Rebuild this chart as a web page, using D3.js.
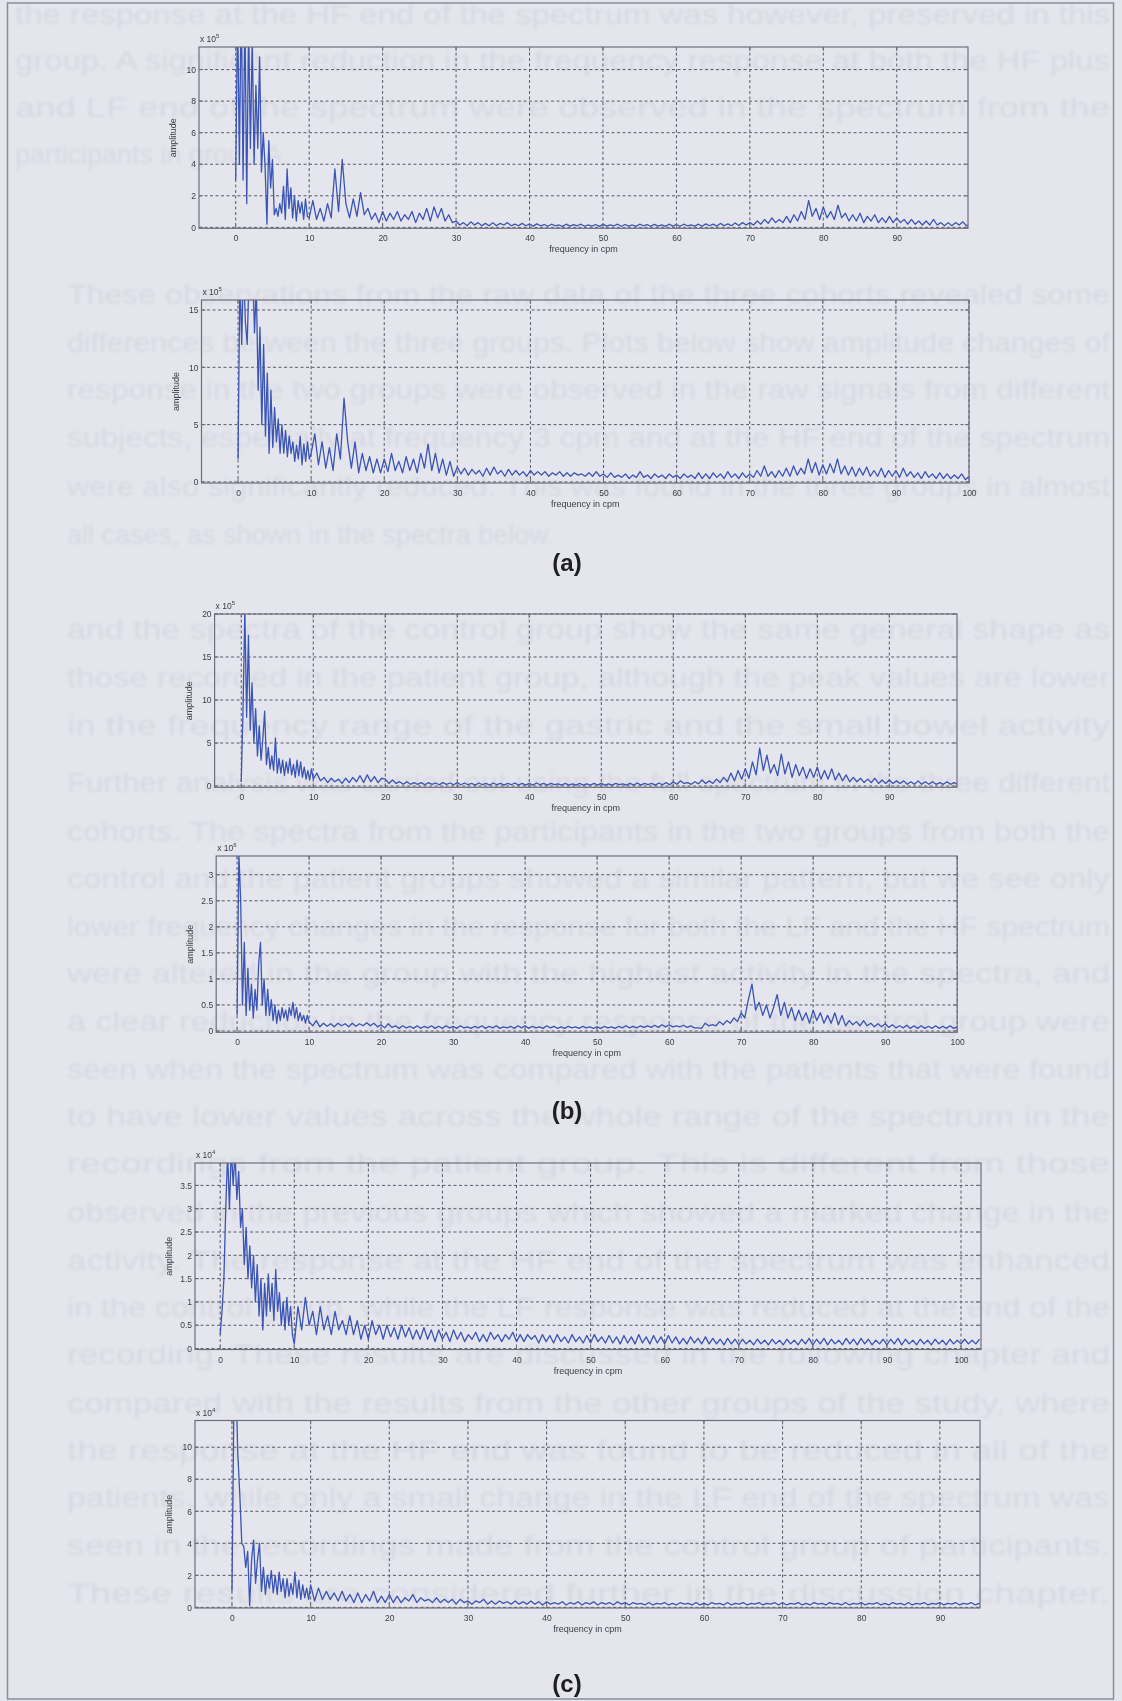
<!DOCTYPE html>
<html>
<head>
<meta charset="utf-8">
<script src="https://cdn.jsdelivr.net/npm/d3@7"></script>
<style>
  body { margin: 0; background: #e5e5ed; }
  svg { display: block; }
</style>
</head>
<body>
<div id="page"></div>
<script>
//Page size.
let W = 1122
let H = 1701

//Samples: 0 to 9.75 cpm every 0.25, then 10 cpm upwards every 0.5.
const freqOf = (i) => i < 40 ? i * 0.25 : 10 + (i - 40) * 0.5

//Spectrum (a), top, x 10^5.
let ampA1 = [
  3,14,4,15,3,14,1.5,13,5,12, 4,9,5,10.8,3.5,6,3.8,0.2,5.5,2.5,
  4.3,0.8,1.2,0.7,1.5,0.9,2.6,0.5,3.7,1.2, 2.5,0.6,2.0,0.4,1.7,0.9,1.6,0.5,1.8,0.7,
  0.6,1.7,0.5,1.2,0.4,1.5,0.6,3.7,1.0,4.3, 1.5,0.6,1.8,0.7,2.2,0.8,1.2,0.5,0.9,0.3,
  1.0,0.4,0.9,0.5,1.0,0.4,0.8,0.5,1.0,0.3, 0.9,0.5,1.2,0.4,1.3,0.6,1.2,0.4,0.8,0.3,
  0.4,0.15,0.3,0.1,0.35,0.15,0.3,0.1,0.25,0.1, 0.3,0.1,0.25,0.15,0.3,0.1,0.2,0.1,0.25,0.1,
  0.2,0.08,0.22,0.1,0.18,0.07,0.2,0.1,0.15,0.06, 0.2,0.08,0.17,0.1,0.2,0.07,0.15,0.08,0.18,0.06,
  0.2,0.08,0.16,0.1,0.2,0.07,0.18,0.08,0.15,0.06, 0.2,0.1,0.17,0.07,0.19,0.08,0.16,0.06,0.2,0.08,
  0.18,0.07,0.2,0.1,0.16,0.08,0.2,0.07,0.22,0.1, 0.2,0.08,0.25,0.1,0.22,0.1,0.28,0.12,0.3,0.15,
  0.3,0.15,0.4,0.2,0.5,0.25,0.6,0.3,0.5,0.3, 0.7,0.3,0.8,0.4,1.0,0.5,1.7,0.7,1.2,0.5,
  1.3,0.6,1.0,0.5,1.4,0.6,0.9,0.4,0.8,0.4, 0.9,0.3,0.7,0.4,0.8,0.3,0.6,0.3,0.7,0.3,
  0.6,0.3,0.5,0.2,0.5,0.2,0.4,0.15,0.4,0.15, 0.5,0.15,0.3,0.1,0.3,0.1,0.3,0.15,0.35,0.1,
  0.2
]

//Spectrum (a), bottom, x 10^5.
let ampA2 = [
  2,18,12,19,14,12,18,16,19,13, 17,8,13.5,5,12,4,9.5,2.5,8,3,
  6.5,3.5,5.5,2.5,5,2.5,4.5,2.2,4,2.5, 3.5,1.8,3.2,2,4,1.5,3.3,1.8,3.5,2,
  2.5,4.2,1.5,3.5,1.2,3.0,1.0,4.2,2.0,7.3, 3.5,1.2,3.5,0.8,2.5,1.0,2.2,0.8,2.0,0.8,
  2.0,0.9,2.5,1.0,1.8,0.8,2.2,1.0,2.0,0.8, 2.5,1.2,3.3,1.0,2.5,0.8,2.0,0.6,1.8,0.5,
  1.3,0.7,1.2,0.6,1.1,0.7,1.0,0.5,1.2,0.6, 1.3,0.7,1.0,0.5,1.1,0.6,1.0,0.6,0.9,0.5,
  1.0,0.6,0.9,0.6,0.9,0.5,0.8,0.6,0.9,0.5, 0.8,0.5,0.8,0.6,0.7,0.5,0.8,0.5,0.9,0.5,
  0.7,0.4,0.8,0.4,0.6,0.4,0.7,0.3,0.6,0.4, 0.9,0.4,0.6,0.3,0.7,0.4,0.6,0.3,0.7,0.4,
  0.6,0.3,0.7,0.4,0.6,0.3,0.8,0.3,0.7,0.3, 0.8,0.4,0.7,0.3,0.9,0.4,0.7,0.3,0.8,0.4,
  0.7,0.4,1.0,0.5,1.4,0.5,0.9,0.4,1.0,0.5, 1.2,0.5,1.4,0.6,1.2,0.7,2.0,0.8,1.7,0.6,
  1.5,0.7,1.6,0.8,2.0,0.7,1.4,0.6,1.3,0.5, 1.2,0.6,1.3,0.5,1.0,0.5,1.2,0.4,1.0,0.5,
  1.0,0.4,1.2,0.5,0.9,0.4,0.8,0.3,0.9,0.4, 0.7,0.3,0.8,0.3,0.7,0.3,0.6,0.3,0.7,0.2,
  0.5
]

//Spectrum (b), top, x 10^5.
let ampB1 = [
  0.5,9,20.5,8,17.5,6.5,12,5,9,3.5, 7,3,5.5,8.7,2.5,4.5,2,3.5,1.8,5.6,
  1.5,3.2,1.5,3,1.2,2.8,1.5,3.2,1.3,2.5, 1.0,3.0,1.2,2.8,1.0,2.2,0.8,1.8,0.7,2.0,
  0.8,1.5,0.6,1.0,0.4,0.9,0.5,0.8,0.3,0.9, 0.4,1.0,0.5,1.2,0.4,1.3,0.5,1.1,0.4,0.9,
  0.8,0.3,0.7,0.3,0.5,0.2,0.5,0.2,0.4,0.2, 0.4,0.15,0.4,0.2,0.35,0.15,0.4,0.2,0.35,0.15,
  0.4,0.15,0.35,0.15,0.3,0.1,0.35,0.15,0.3,0.1, 0.35,0.15,0.3,0.1,0.3,0.15,0.35,0.1,0.3,0.1,
  0.3,0.1,0.35,0.15,0.3,0.1,0.3,0.15,0.25,0.1, 0.3,0.1,0.25,0.1,0.3,0.1,0.25,0.1,0.3,0.1,
  0.3,0.1,0.25,0.1,0.3,0.15,0.25,0.1,0.3,0.1, 0.35,0.1,0.3,0.15,0.3,0.1,0.35,0.15,0.4,0.15,
  0.5,0.2,0.6,0.3,0.4,0.2,0.5,0.25,0.7,0.3, 0.6,0.3,0.8,0.4,1.0,0.5,1.5,0.6,1.8,0.8,
  2.0,0.9,2.8,1.3,4.4,1.8,3.6,1.5,2.5,1.2, 3.7,1.4,2.8,1.0,2.5,1.2,2.2,0.9,2.0,1.0,
  2.2,0.8,1.8,0.8,2.0,0.7,1.5,0.6,1.3,0.5, 1.0,0.5,0.9,0.4,0.8,0.4,0.9,0.3,0.7,0.3,
  0.7,0.3,0.6,0.3,0.6,0.2,0.5,0.2,0.6,0.2, 0.5,0.2,0.5,0.2,0.4,0.2,0.5,0.2,0.4,0.2,
  0.3
]

//Spectrum (b), bottom, x 10^6.
let ampB2 = [
  0.3,3.4,2.5,0.5,1.7,0.3,1.2,0.4,0.9,0.25, 0.8,0.4,1.3,1.7,0.5,1.0,0.3,0.8,0.3,0.6,
  0.2,0.5,0.15,0.4,0.2,0.45,0.25,0.4,0.2,0.45, 0.3,0.55,0.25,0.45,0.2,0.35,0.2,0.3,0.15,0.3,
  0.18,0.1,0.2,0.08,0.15,0.09,0.14,0.08,0.15,0.1, 0.14,0.08,0.15,0.09,0.14,0.1,0.16,0.1,0.15,0.08,
  0.12,0.06,0.14,0.07,0.1,0.05,0.1,0.06,0.09,0.05, 0.1,0.05,0.09,0.06,0.1,0.05,0.09,0.05,0.1,0.06,
  0.09,0.05,0.1,0.06,0.08,0.05,0.09,0.06,0.1,0.05, 0.09,0.06,0.1,0.05,0.08,0.06,0.09,0.05,0.1,0.06,
  0.1,0.05,0.09,0.06,0.08,0.05,0.1,0.06,0.09,0.05, 0.08,0.05,0.09,0.06,0.08,0.05,0.09,0.06,0.08,0.05,
  0.08,0.05,0.09,0.06,0.08,0.05,0.09,0.06,0.1,0.06, 0.09,0.06,0.1,0.07,0.1,0.07,0.11,0.07,0.12,0.08,
  0.12,0.08,0.1,0.08,0.11,0.07,0.1,0.06,0.06,0.05, 0.15,0.1,0.12,0.1,0.18,0.12,0.2,0.15,0.25,0.18,
  0.35,0.25,0.6,0.9,0.4,0.55,0.3,0.5,0.25,0.45, 0.7,0.3,0.55,0.25,0.45,0.2,0.4,0.2,0.35,0.15,
  0.4,0.2,0.35,0.15,0.3,0.15,0.35,0.12,0.3,0.1, 0.2,0.12,0.18,0.1,0.2,0.1,0.15,0.08,0.14,0.08,
  0.14,0.07,0.12,0.06,0.1,0.06,0.11,0.05,0.1,0.05, 0.1,0.05,0.09,0.05,0.1,0.05,0.09,0.05,0.1,0.05,
  0.08
]

//Spectrum (c), top, x 10^4.
let ampC1 = [
  0.3,0.8,1.5,3.0,4.2,3.0,4.3,3.5,4.2,3.2, 3.8,2.6,3.0,1.8,2.6,1.5,2.2,1.3,2.0,1.0,
  1.8,0.7,1.5,0.4,1.4,0.7,1.6,0.8,1.4,0.6, 1.7,0.8,1.2,0.5,1.0,0.4,1.1,0.5,0.9,0.3,
  0.1,0.9,0.4,1.1,0.5,0.8,0.3,0.9,0.4,0.7, 0.3,0.8,0.4,0.6,0.3,0.7,0.3,0.6,0.2,0.5,
  0.2,0.6,0.3,0.5,0.2,0.5,0.25,0.45,0.2,0.5, 0.25,0.45,0.2,0.4,0.2,0.45,0.2,0.4,0.15,0.4,
  0.2,0.35,0.15,0.4,0.2,0.35,0.15,0.3,0.2,0.35, 0.15,0.3,0.15,0.35,0.2,0.3,0.15,0.3,0.2,0.35,
  0.15,0.3,0.15,0.3,0.2,0.28,0.12,0.3,0.15,0.28, 0.12,0.3,0.15,0.25,0.12,0.3,0.15,0.25,0.12,0.28,
  0.12,0.3,0.15,0.25,0.12,0.28,0.12,0.25,0.1,0.28, 0.12,0.25,0.1,0.3,0.12,0.25,0.1,0.28,0.12,0.25,
  0.1,0.28,0.12,0.25,0.1,0.22,0.1,0.25,0.12,0.22, 0.1,0.25,0.1,0.22,0.1,0.2,0.08,0.22,0.1,0.2,
  0.08,0.2,0.1,0.18,0.08,0.2,0.1,0.18,0.08,0.2, 0.1,0.18,0.08,0.2,0.1,0.18,0.08,0.2,0.1,0.22,
  0.08,0.2,0.1,0.22,0.08,0.2,0.1,0.18,0.08,0.22, 0.1,0.2,0.08,0.22,0.1,0.2,0.08,0.18,0.1,0.2,
  0.08,0.2,0.1,0.22,0.08,0.2,0.1,0.18,0.08,0.2, 0.1,0.18,0.08,0.2,0.1,0.18,0.08,0.2,0.1,0.18,
  0.1,0.2,0.1,0.18,0.1,0.2
]

//Spectrum (c), bottom, x 10^4.
let ampC2 = [
  1,13,14,9.5,7,4,3.8,2.5,3.5,0.1, 3,4.2,1.5,3.0,4.0,1.0,2.5,0.8,2.0,1.2,
  2.3,0.9,2.0,0.8,2.2,1.0,1.8,0.6,1.8,0.7, 1.5,0.8,2.2,0.6,1.7,0.5,1.4,0.6,1.2,0.5,
  1.4,0.4,1.2,0.5,1.0,0.5,0.9,0.4,1.0,0.4, 0.8,0.3,0.9,0.3,0.8,0.4,1.0,0.3,0.7,0.3,
  0.8,0.3,0.7,0.3,0.6,0.4,0.8,0.3,0.6,0.4, 0.5,0.3,0.6,0.3,0.5,0.3,0.5,0.2,0.5,0.3,
  0.4,0.2,0.4,0.3,0.5,0.2,0.4,0.2,0.4,0.25, 0.35,0.2,0.4,0.2,0.35,0.2,0.4,0.2,0.35,0.15,
  0.35,0.2,0.3,0.2,0.35,0.15,0.3,0.2,0.35,0.15, 0.3,0.2,0.35,0.15,0.3,0.2,0.3,0.15,0.35,0.2,
  0.3,0.15,0.3,0.2,0.25,0.15,0.3,0.15,0.25,0.2, 0.3,0.15,0.25,0.15,0.3,0.2,0.25,0.15,0.3,0.15,
  0.25,0.15,0.3,0.2,0.25,0.15,0.3,0.15,0.25,0.2, 0.3,0.15,0.25,0.2,0.3,0.15,0.25,0.2,0.3,0.15,
  0.3,0.15,0.25,0.2,0.3,0.15,0.25,0.15,0.3,0.2, 0.25,0.15,0.3,0.2,0.25,0.15,0.3,0.15,0.25,0.2,
  0.3,0.15,0.25,0.2,0.3,0.15,0.25,0.15,0.3,0.2, 0.25,0.15,0.3,0.15,0.25,0.2,0.3,0.15,0.25,0.2,
  0.3,0.15,0.25,0.2,0.3,0.15,0.25,0.2,0.3,0.15, 0.25,0.2,0.3,0.15,0.25,0.2,0.3,0.15,0.25,0.2,
  0.2
]

//Tick values of each axis.
let xTicks90 = [0, 10, 20, 30, 40, 50, 60, 70, 80, 90]
let xTicks100 = [0, 10, 20, 30, 40, 50, 60, 70, 80, 90, 100]
let yTicksA1 = [0, 2, 4, 6, 8, 10]
let yTicksA2 = [0, 5, 10, 15]
let yTicksB1 = [0, 5, 10, 15, 20]
let yTicksB2 = [0, 0.5, 1, 1.5, 2, 2.5, 3]
let yTicksC1 = [0, 0.5, 1, 1.5, 2, 2.5, 3, 3.5]
let yTicksC2 = [0, 2, 4, 6, 8, 10]

//Multiplier exponents shown above each plot.
let exponents = ["5", "5", "5", "6", "4", "4"]

//Panel captions.
let captions = ["(a)", "(b)", "(c)"]

//Text of the page showing through the scan.
let bgLines = [
  "the response at the HF end of the spectrum was however, preserved in this",
  "group. A significant reduction in the frequency response at both the HF plus",
  "and LF end of the spectrum were observed in the spectrum from the",
  "participants in group A.",
  "These observations from the raw data of the three cohorts revealed some",
  "differences between the three groups. Plots below show amplitude changes of",
  "response in the two groups were observed in the raw signals from different",
  "subjects, especially at frequency 3 cpm and at the HF end of the spectrum",
  "were also significantly reduced. This was found in the three groups in almost",
  "all cases, as shown in the spectra below.",
  "and the spectra of the control group show the same general shape as",
  "those recorded in the patient group, although the peak values are lower",
  "in the frequency range of the gastric and the small bowel activity",
  "Further analysis was carried out using the full spectrum in the three different",
  "cohorts. The spectra from the participants in the two groups from both the",
  "control and the patient groups showed a similar pattern, but we see only",
  "lower frequency changes in the response for both the LF and the HF spectrum",
  "were altered in the group with the highest activity in the spectra, and",
  "a clear reduction in the frequency response of the control group were",
  "seen when the spectrum was compared with the patients that were found",
  "to have lower values across the whole range of the spectrum in the",
  "recordings from the patient group. This is different from those",
  "observed in the previous groups which showed a marked change in the",
  "activity. The response at the HF end of the spectrum was enhanced",
  "in the control group, while the LF response was reduced at the end of the",
  "recording. These results are discussed in the following chapter and",
  "compared with the results from the other groups of the study, where",
  "the response at the HF end was found to be reduced in all of the",
  "patients, while only a small change in the LF end of the spectrum was",
  "seen in the recordings made from the control group of participants.",
  "These results are considered further in the discussion chapter."
]

//Position of each text line: baseline y, left x, whether it is justified.
let bgPos = [
  [24, 15, 1], [70, 15, 1], [117, 15, 1], [164, 15, 0],
  [304, 67, 1], [352, 67, 1], [399, 67, 1], [447, 67, 1], [496, 67, 1], [544, 67, 0],
  [639, 67, 1], [687, 67, 1], [735, 67, 1],
  [792, 67, 1], [841, 67, 1], [888, 67, 1], [936, 67, 1], [983, 67, 1], [1031, 67, 1],
  [1079, 67, 1], [1126, 67, 1], [1173, 67, 1], [1222, 67, 1], [1270, 67, 1], [1317, 67, 1],
  [1364, 67, 1], [1413, 67, 1], [1460, 67, 1], [1507, 67, 1], [1555, 67, 1], [1603, 67, 1]
]

//Where each plot box sits on the page and the range its axes show.
let layout = [
  { left: 199, right: 968, top: 47, bottom: 228.3, xDom: [-5, 99.7], yDom: [-0.06, 11.43] },
  { left: 201.5, right: 969, top: 300, bottom: 483, xDom: [-5, 100], yDom: [-0.09, 15.87] },
  { left: 214.6, right: 957, top: 614, bottom: 787.3, xDom: [-3.7, 99.4], yDom: [-0.15, 20] },
  { left: 216.2, right: 957.2, top: 856, bottom: 1032.3, xDom: [-2.9, 100], yDom: [-0.025, 3.36] },
  { left: 195, right: 981, top: 1163, bottom: 1349.5, xDom: [-3.4, 102.7], yDom: [-0.02, 3.98] },
  { left: 195, right: 980, top: 1420.5, bottom: 1608, xDom: [-4.7, 95.1], yDom: [-0.04, 11.67] }
]

let amps = [ampA1, ampA2, ampB1, ampB2, ampC1, ampC2]
let xTickSets = [xTicks90, xTicks100, xTicks90, xTicks100, xTicks100, xTicks90]
let yTickSets = [yTicksA1, yTicksA2, yTicksB1, yTicksB2, yTicksC1, yTicksC2]

let captionY = [571, 1119, 1692]

const font = "'Liberation Sans', Arial, sans-serif"
const lineColor = "#3a54b4"
const gridColor = "#5a5a66"
const textColor = "#3c3c44"

//The page.
const svg = d3.select("#page")
              .append("svg")
              .attr("width", W)
              .attr("height", H)

const defs = svg.append("defs")
defs.append("filter").attr("id", "bleed")
    .attr("x", "-5%").attr("y", "-5%").attr("width", "110%").attr("height", "110%")
    .append("feGaussianBlur").attr("stdDeviation", 1.4)
defs.append("filter").attr("id", "soft")
    .attr("x", "-5%").attr("y", "-5%").attr("width", "110%").attr("height", "110%")
    .append("feGaussianBlur").attr("stdDeviation", 0.45)

svg.append("rect").attr("width", W).attr("height", H).attr("fill", "#e5e5ed")

//Faint text from the page behind.
const bg = svg.append("g").attr("filter", "url(#bleed)")
bg.selectAll("text")
  .data(bgLines)
  .join("text")
  .attr("x", (d, i) => bgPos[i][1])
  .attr("y", (d, i) => bgPos[i][0])
  .attr("font-family", font)
  .attr("font-size", 27)
  .attr("fill", "#d8d8e2")
  .attr("textLength", (d, i) => bgPos[i][2] ? 1110 - bgPos[i][1] : null)
  .attr("lengthAdjust", "spacingAndGlyphs")
  .text(d => d)

//Frame round the figure.
svg.append("rect")
   .attr("x", 7.5).attr("y", 3)
   .attr("width", 1106).attr("height", 1696)
   .attr("fill", "none")
   .attr("stroke", "#8c8c98")
   .attr("stroke-width", 1.5)

const charts = svg.append("g").attr("filter", "url(#soft)")

function drawPanel(p, i) {
  const x = d3.scaleLinear().domain(p.xDom).range([p.left, p.right])
  const y = d3.scaleLinear().domain(p.yDom).range([p.bottom, p.top])
  const g = charts.append("g")
  const clipId = "clip" + i

  defs.append("clipPath").attr("id", clipId)
      .append("rect")
      .attr("x", p.left).attr("y", p.top)
      .attr("width", p.right - p.left).attr("height", p.bottom - p.top)

  //Dashed grid.
  g.append("g").selectAll("line")
   .data(xTickSets[i])
   .join("line")
   .attr("x1", d => x(d)).attr("x2", d => x(d))
   .attr("y1", p.top).attr("y2", p.bottom)
   .attr("stroke", gridColor).attr("stroke-width", 1)
   .attr("stroke-dasharray", "3,2.5")
  g.append("g").selectAll("line")
   .data(yTickSets[i])
   .join("line")
   .attr("x1", p.left).attr("x2", p.right)
   .attr("y1", d => y(d)).attr("y2", d => y(d))
   .attr("stroke", gridColor).attr("stroke-width", 1)
   .attr("stroke-dasharray", "3,2.5")

  //The spectrum.
  const line = d3.line()
                 .x((d, k) => x(freqOf(k)))
                 .y(d => y(d))
  g.append("path")
   .datum(amps[i])
   .attr("clip-path", "url(#" + clipId + ")")
   .attr("d", line)
   .attr("fill", "none")
   .attr("stroke", lineColor)
   .attr("stroke-width", 1.3)
   .attr("stroke-linejoin", "round")

  //Box.
  g.append("rect")
   .attr("x", p.left).attr("y", p.top)
   .attr("width", p.right - p.left).attr("height", p.bottom - p.top)
   .attr("fill", "none").attr("stroke", "#6e6e7a").attr("stroke-width", 1.2)

  //Tick labels.
  const xAxis = d3.axisBottom(x).tickValues(xTickSets[i]).tickSize(4).tickPadding(2)
  const xg = g.append("g").attr("transform", "translate(0," + (p.bottom + 1) + ")").call(xAxis)
  const yAxis = d3.axisLeft(y).tickValues(yTickSets[i]).tickSize(0).tickPadding(3)
                  .tickFormat(d3.format("~g"))
  const yg = g.append("g").attr("transform", "translate(" + p.left + ",0)").call(yAxis)
  ;[xg, yg].forEach(a => {
    a.attr("font-family", font).attr("font-size", 8.5)
    a.select(".domain").remove()
    a.selectAll("text").attr("fill", textColor)
  })
  xg.selectAll("line").remove()

  //Inward tick marks on all four sides.
  xTickSets[i].forEach(t => {
    g.append("line").attr("x1", x(t)).attr("x2", x(t)).attr("y1", p.bottom).attr("y2", p.bottom - 4).attr("stroke", "#6e6e7a")
    g.append("line").attr("x1", x(t)).attr("x2", x(t)).attr("y1", p.top).attr("y2", p.top + 4).attr("stroke", "#6e6e7a")
  })
  yTickSets[i].forEach(t => {
    g.append("line").attr("x1", p.left).attr("x2", p.left + 4).attr("y1", y(t)).attr("y2", y(t)).attr("stroke", "#6e6e7a")
    g.append("line").attr("x1", p.right).attr("x2", p.right - 4).attr("y1", y(t)).attr("y2", y(t)).attr("stroke", "#6e6e7a")
  })

  //Axis titles.
  g.append("text")
   .attr("x", (p.left + p.right) / 2).attr("y", p.bottom + 24)
   .attr("text-anchor", "middle")
   .attr("font-family", font).attr("font-size", 9)
   .attr("fill", textColor)
   .text("frequency in cpm")
  g.append("text")
   .attr("transform", "translate(" + (p.left - 23) + "," + ((p.top + p.bottom) / 2) + ") rotate(-90)")
   .attr("text-anchor", "middle")
   .attr("font-family", font).attr("font-size", 9)
   .attr("fill", textColor)
   .text("amplitude")

  //Multiplier above the box.
  const ex = g.append("text")
              .attr("x", p.left + 1).attr("y", p.top - 5)
              .attr("font-family", font).attr("font-size", 8.5)
              .attr("fill", textColor)
  ex.append("tspan").text("x 10")
  ex.append("tspan").attr("dy", -4).attr("font-size", 6).text(exponents[i])
}

layout.forEach(drawPanel)

//Captions (a), (b), (c).
svg.selectAll(".caption")
   .data(captions)
   .join("text")
   .attr("class", "caption")
   .attr("x", 567)
   .attr("y", (d, i) => captionY[i])
   .attr("text-anchor", "middle")
   .attr("font-family", font)
   .attr("font-weight", "bold")
   .attr("font-size", 24)
   .attr("fill", "#1e1e24")
   .text(d => d)
</script>
</body>
</html>
